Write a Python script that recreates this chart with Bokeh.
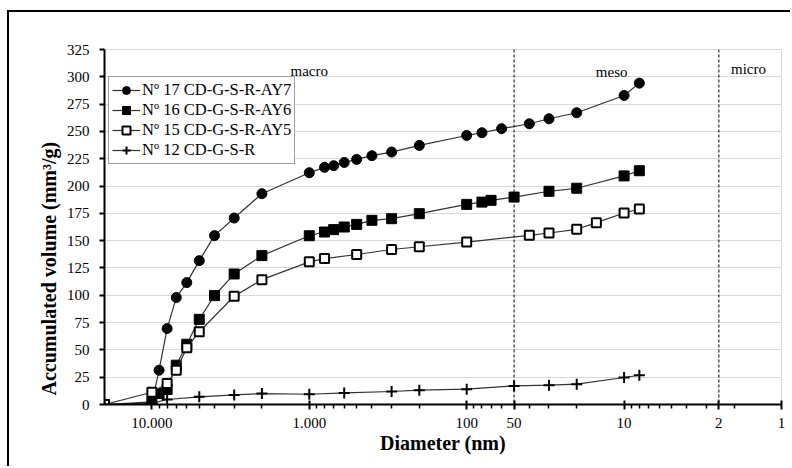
from bokeh.plotting import figure
from bokeh.models import FixedTicker, Range1d, Span, Label, Legend, LegendItem, Title
from bokeh.embed import file_html
from bokeh.resources import INLINE

# ---------------- data ----------------
x17 = [20000, 10000, 9000, 8000, 7000, 6000, 5000, 4000, 3000, 2000, 1000, 800, 700,
       600, 500, 400, 300, 200, 100, 80, 60, 40, 30, 20, 10, 8]
y17 = [0, 1.5, 31.4, 69.5, 97.9, 111.6, 131.7, 154.6, 170.7, 193.0, 212.2, 217.1, 218.6,
       221.6, 224.4, 227.8, 231.1, 237.2, 246.3, 248.8, 252.5, 257.0, 261.6, 267.1, 282.9, 294.2]

x16 = [20000, 10000, 9000, 8000, 7000, 6000, 5000, 4000, 3000, 2000, 1000, 800, 700,
       600, 500, 400, 300, 200, 100, 80, 70, 50, 30, 20, 10, 8]
y16 = [0, 2.4, 10.0, 13.7, 36.0, 55.2, 78.0, 99.7, 119.5, 136.3, 154.5, 157.9, 160.1,
       162.5, 164.9, 168.6, 170.1, 174.7, 183.2, 185.3, 186.9, 189.9, 195.2, 198.0, 209.3, 214.0]

x15 = [20000, 10000, 8000, 7000, 6000, 5000, 3000, 2000, 1000, 800, 500, 300, 200,
       100, 40, 30, 20, 15, 10, 8]
y15 = [0, 11.2, 19.2, 31.4, 52.0, 66.6, 99.1, 114.3, 130.6, 133.6, 137.3, 141.9, 144.4,
       148.7, 154.9, 157.0, 160.4, 166.5, 175.3, 179.0]

x12 = [20000, 10000, 8000, 5000, 3000, 2000, 1000, 600, 300, 200, 100, 50, 30, 20, 10, 8]
y12 = [0, 1.0, 4.6, 7.0, 8.8, 10.0, 9.4, 10.6, 11.9, 13.1, 14.0, 17.0, 17.7, 18.6, 24.7, 26.8]

series_names = ["Nº 17 CD-G-S-R-AY7", "Nº 16 CD-G-S-R-AY6",
                "Nº 15 CD-G-S-R-AY5", "Nº 12 CD-G-S-R"]

y_ticks = [0, 25, 50, 75, 100, 125, 150, 175, 200, 225, 250, 275, 300, 325]
x_major_ticks = [10000, 1000, 100, 50, 10, 2.5, 1]
x_tick_labels = {10000: "10.000", 1000: "1.000", 100: "100", 50: "50",
                 10: "10", 2.5: "2", 1: "1"}
x_minor_ticks = [m * d for d in [1, 10, 100, 1000] for m in [2, 3, 4, 5, 6, 7, 8, 9]]

region_labels = ["macro", "meso", "micro"]
region_label_x = [1000, 12, 1.62]
region_label_y = [305, 304, 307]
boundaries = [50, 2.5]

SERIF = "Liberation Serif"

# ---------------- figure ----------------
p = figure(width=783, height=456, x_axis_type="log",
           x_range=Range1d(20000, 1), y_range=Range1d(0, 325),
           output_backend="svg", toolbar_location=None,
           min_border_left=95, min_border_right=11,
           min_border_top=37, min_border_bottom=64)
p.styles = {"border-left": "2px solid black", "border-top": "2px solid black",
            "margin-left": "7px", "margin-top": "10px"}

p.outline_line_color = "#d9d9d9"
p.xgrid.grid_line_color = None
p.ygrid.grid_line_color = "#d9d9d9"
p.ygrid.grid_line_width = 1

# axes
p.yaxis.ticker = FixedTicker(ticks=y_ticks)
p.xaxis.ticker = FixedTicker(ticks=x_major_ticks, minor_ticks=x_minor_ticks)
p.xaxis.major_label_overrides = x_tick_labels
for ax in (p.xaxis[0], p.yaxis[0]):
    ax.axis_line_color = "black"
    ax.axis_line_width = 2
    ax.major_tick_line_color = "black"
    ax.major_tick_line_width = 2
    ax.minor_tick_line_color = "black"
    ax.minor_tick_line_width = 1.5
    ax.major_label_text_font = SERIF
    ax.major_label_text_font_size = "15px"
    ax.major_label_text_color = "black"
    ax.axis_label_text_font = SERIF
    ax.axis_label_text_font_style = "bold"
    ax.axis_label_text_font_size = "20px"
    ax.axis_label_text_color = "black"

p.xaxis.major_tick_in = 4
p.xaxis.major_tick_out = 5
p.xaxis.minor_tick_in = 0
p.xaxis.minor_tick_out = 4
p.xaxis.major_label_standoff = 8
p.xaxis.axis_label = "Diameter (nm)"
p.xaxis.axis_label_standoff = 1

p.yaxis.major_tick_in = 0
p.yaxis.major_tick_out = 5
p.yaxis.minor_tick_line_color = None
p.yaxis.major_label_standoff = 10

ytitle = Title(text="Accumulated volume (mm³/g)", align="left", offset=9,
               text_font=SERIF, text_font_style="bold", text_font_size="20px",
               text_color="black", standoff=8)
p.add_layout(ytitle, "left")

# boundary lines
for b in boundaries:
    p.add_layout(Span(location=b, dimension="height", line_color="black",
                      line_width=1, line_dash="3 2"))

LINE = "#333333"
r17l = p.line(x17, y17, line_color=LINE, line_width=1.2)
r17m = p.scatter(x17, y17, marker="circle", size=10, fill_color="black", line_color="black")
r16l = p.line(x16, y16, line_color=LINE, line_width=1.2)
r16m = p.scatter(x16, y16, marker="square", size=10, fill_color="black", line_color="black")
r15l = p.line(x15, y15, line_color=LINE, line_width=1.2)
r15m = p.scatter(x15, y15, marker="square", size=9, fill_color="white",
                 line_color="black", line_width=2)
r12l = p.line(x12, y12, line_color=LINE, line_width=1.2)
r12m = p.scatter(x12, y12, marker="cross", size=11, line_color="black", line_width=2)

legend = Legend(items=[
    LegendItem(label=series_names[0], renderers=[r17l, r17m]),
    LegendItem(label=series_names[1], renderers=[r16l, r16m]),
    LegendItem(label=series_names[2], renderers=[r15l, r15m]),
    LegendItem(label=series_names[3], renderers=[r12l, r12m]),
], location=(4, 240))
legend.label_text_font = SERIF
legend.label_text_font_size = "16.5px"
legend.label_text_color = "black"
legend.glyph_width = 28
legend.glyph_height = 20
legend.label_height = 20
legend.label_standoff = 2
legend.spacing = 0
legend.padding = 3
legend.margin = 0
legend.border_line_color = "#404040"
legend.border_line_width = 1
legend.background_fill_color = "white"
legend.background_fill_alpha = 1
p.add_layout(legend)

# region labels
for t, xx, yy in zip(region_labels, region_label_x, region_label_y):
    p.add_layout(Label(x=xx, y=yy, text=t, text_font=SERIF, text_font_size="15px",
                       text_align="center", text_baseline="middle", text_color="black"))

open("out.html", "w").write(file_html(p, INLINE))
